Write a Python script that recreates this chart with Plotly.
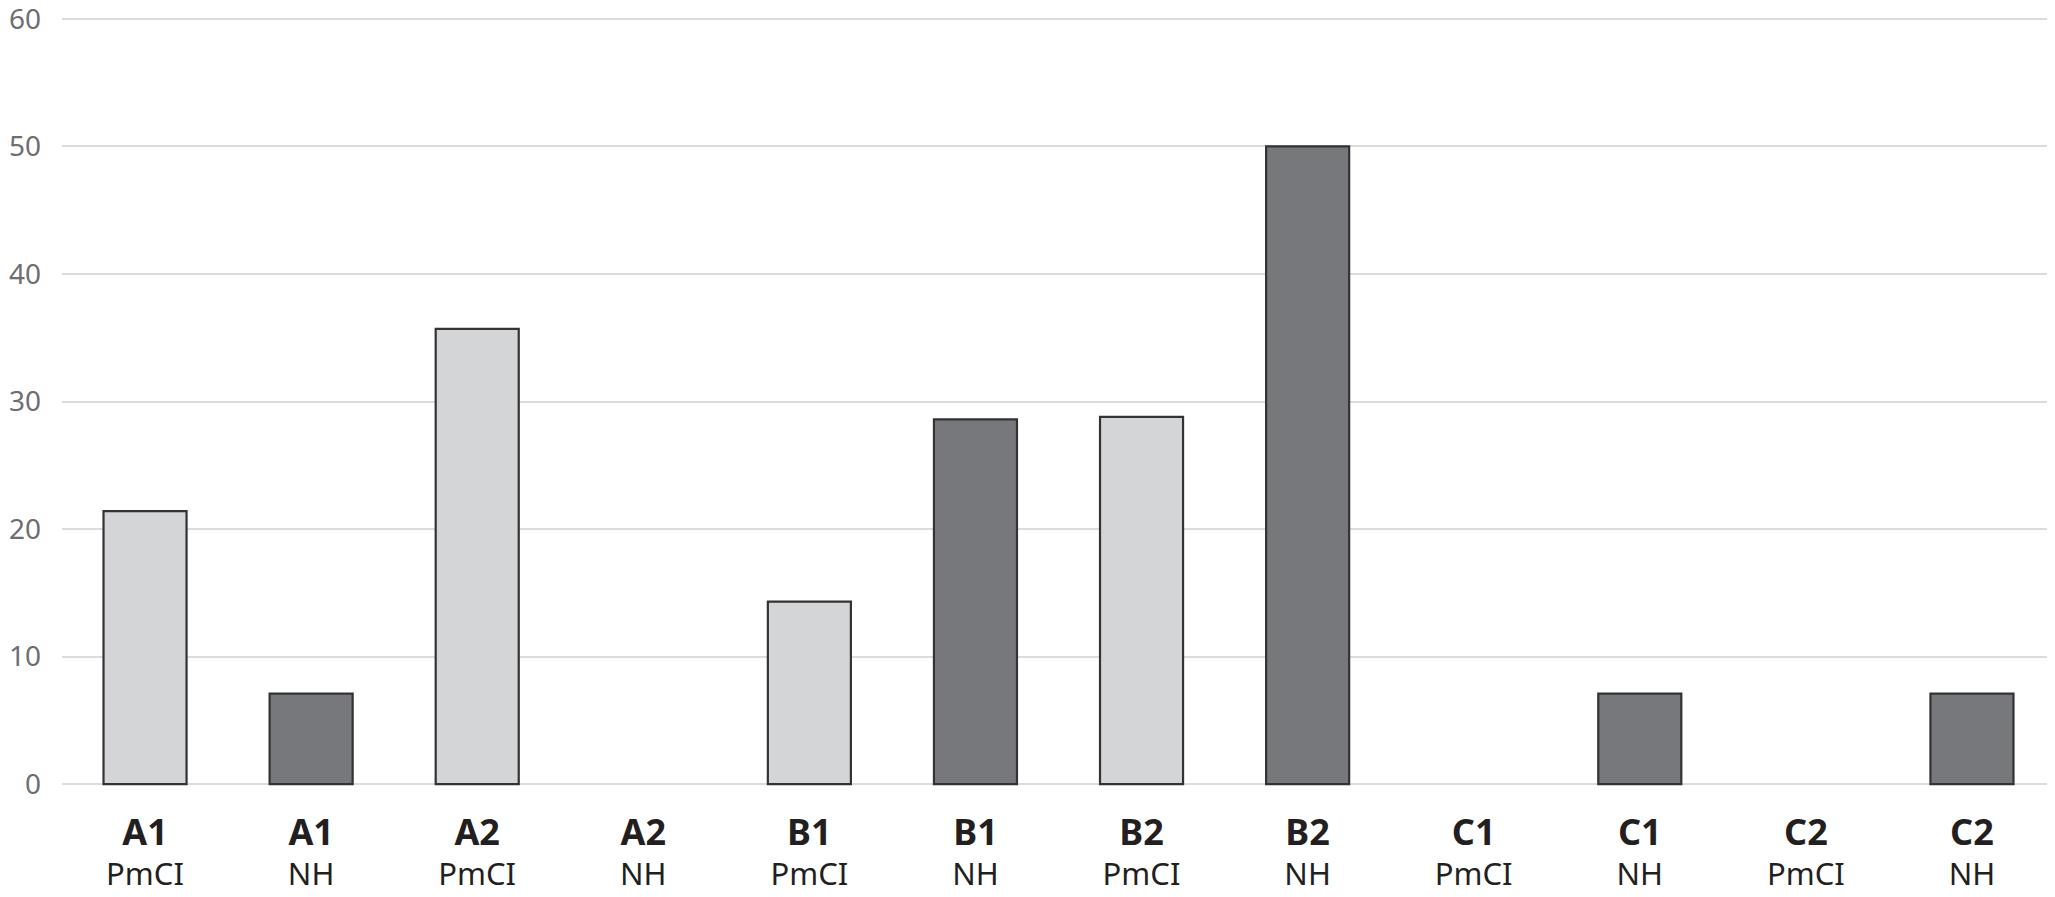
import plotly.graph_objects as go

groups = ["A1", "A2", "B1", "B2", "C1", "C2"]
methods = ["PmCI", "NH"]
pmci_values = [21.4, 35.7, 14.3, 28.8, 0, 0]
nh_values = [7.1, 0, 28.6, 50, 7.1, 7.1]
y_ticks = [0, 10, 20, 30, 40, 50, 60]

colors = {"PmCI": "#d4d5d7", "NH": "#77787b"}

cats, labels, vals, cols = [], [], [], []
for g, p, n in zip(groups, pmci_values, nh_values):
    for m, v in zip(methods, [p, n]):
        cats.append(f"{g} {m}")
        labels.append(f"<span style='font-size:36px'><b>{g}</b></span><br>{m}")
        vals.append(v if v else None)
        cols.append(colors[m])

fig = go.Figure(
    go.Bar(
        x=cats,
        y=vals,
        marker=dict(color=cols, line=dict(color="#333335", width=2.2)),
        hoverinfo="x+y",
    )
)

# the page body adds an 8px offset, so the figure is 8px smaller and shifted
fig.update_layout(
    width=2047,
    height=889,
    margin=dict(l=54, r=0, t=9, b=111),
    paper_bgcolor="white",
    plot_bgcolor="white",
    bargap=0.5,
    showlegend=False,
    font=dict(family="Noto Sans, Open Sans, sans-serif"),
)
fig.update_xaxes(
    tickvals=cats,
    ticktext=labels,
    tickfont=dict(size=31, color="#231f20"),
    showgrid=False,
    showline=False,
    ticks="",
    ticklabelstandoff=27,
    automargin=False,
)
fig.update_yaxes(
    range=[-0.15, 60.15],
    tickvals=y_ticks,
    tickfont=dict(size=28, color="#6d6e71"),
    showgrid=True,
    gridcolor="#dcdcdc",
    gridwidth=2,
    zeroline=False,
    showline=False,
    ticks="",
    ticklabelstandoff=20,
    ticklabeloverflow="allow",
    automargin=False,
)

fig.write_html("out.html")
